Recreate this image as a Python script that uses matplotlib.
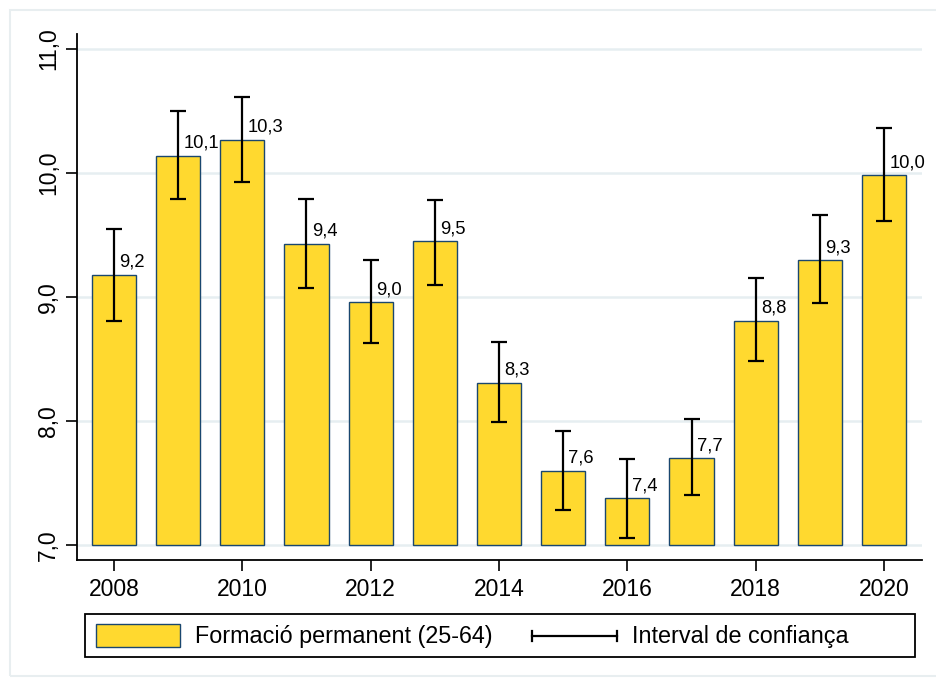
import matplotlib
matplotlib.use("Agg")
import matplotlib.pyplot as plt
from matplotlib.patches import Rectangle
from matplotlib.lines import Line2D

plt.rcParams['font.family'] = ['Liberation Sans', 'DejaVu Sans']

years = [2008, 2009, 2010, 2011, 2012, 2013, 2014, 2015, 2016, 2017, 2018, 2019, 2020]
values = [9.18, 10.14, 10.27, 9.43, 8.96, 9.45, 8.31, 7.60, 7.38, 7.70, 8.81, 9.30, 9.98]
ci_low = [8.81, 9.79, 9.93, 9.07, 8.63, 9.10, 7.99, 7.28, 7.06, 7.40, 8.48, 8.95, 9.61]
ci_high = [9.55, 10.50, 10.61, 9.79, 9.30, 9.78, 8.64, 7.92, 7.69, 8.02, 9.15, 9.66, 10.36]
labels = ["9,2", "10,1", "10,3", "9,4", "9,0", "9,5", "8,3", "7,6", "7,4", "7,7", "8,8", "9,3", "10,0"]
yticks = [7.0, 8.0, 9.0, 10.0, 11.0]
ytick_labels = ["7,0", "8,0", "9,0", "10,0", "11,0"]
xticks = [2008, 2010, 2012, 2014, 2016, 2018, 2020]
legend_labels = ["Formació permanent (25-64)", "Interval de confiança"]

bar_color = "#FFD92F"
edge_color = "#1a476f"
grid_color = "#e6eef1"

fig = plt.figure(figsize=(9.36, 6.82), dpi=100)
W, H = 936, 682

def fx(px):
    return px / W

def fy(py):
    return 1 - py / H

# outer light frame
fig.patches.append(Rectangle((fx(10), fy(676)), fx(940) - fx(10), fy(10) - fy(676),
                             transform=fig.transFigure, fill=False,
                             edgecolor="#e8eef0", lw=1.5))

ax = fig.add_axes([fx(77), fy(560), fx(922) - fx(77), fy(34) - fy(560)])
base = 7.0
heights = [v - base for v in values]
ax.bar(years, heights, bottom=base, width=0.69, color=bar_color,
       edgecolor=edge_color, linewidth=1.0, zorder=3)
yerr = [[v - l for v, l in zip(values, ci_low)], [h - v for v, h in zip(values, ci_high)]]
ax.errorbar(years, values, yerr=yerr, fmt='none', ecolor='black',
            elinewidth=1.6, capsize=5.5, capthick=1.6, zorder=4)
for x, v, lab in zip(years, values, labels):
    ax.text(x + 0.08, v + 0.03, lab, ha='left', va='bottom', fontsize=13.2, zorder=5)

ax.set_ylim(7 - 15 / 124, 11 + 15 / 124)
ax.set_xlim(2008 - 37 / 64.17, 2020 + 38 / 64.17)
ax.set_yticks(yticks)
ax.set_yticklabels(ytick_labels, rotation=90, va='center', fontsize=16.5)
ax.set_xticks(xticks)
ax.set_xticklabels([str(t) for t in xticks], fontsize=16.5)
ax.tick_params(axis='both', direction='out', length=8, width=1.2, color='black')
ax.tick_params(axis='y', pad=4)
ax.tick_params(axis='x', pad=5)
ax.grid(axis='y', color=grid_color, lw=1.8, zorder=0)
ax.set_axisbelow(True)
for s in ['top', 'right']:
    ax.spines[s].set_visible(False)
for s in ['left', 'bottom']:
    ax.spines[s].set_linewidth(1.3)

# legend (drawn manually)
fig.patches.append(Rectangle((fx(85), fy(657)), fx(915) - fx(85), fy(614) - fy(657),
                             transform=fig.transFigure, fill=False,
                             edgecolor='black', lw=1.3))
fig.patches.append(Rectangle((fx(96), fy(647)), fx(180) - fx(96), fy(624) - fy(647),
                             transform=fig.transFigure, facecolor=bar_color,
                             edgecolor=edge_color, lw=1.0))
fig.text(fx(195), fy(636), legend_labels[0], ha='left', va='center', fontsize=16.8)
fig.lines.append(Line2D([fx(532), fx(617)], [fy(636), fy(636)], transform=fig.transFigure,
                        color='black', lw=1.6))
for xx in (532, 617):
    fig.lines.append(Line2D([fx(xx), fx(xx)], [fy(631), fy(641)], transform=fig.transFigure,
                            color='black', lw=1.6))
fig.text(fx(632), fy(636), legend_labels[1], ha='left', va='center', fontsize=16.8)

fig.savefig("out.png", dpi=100)
